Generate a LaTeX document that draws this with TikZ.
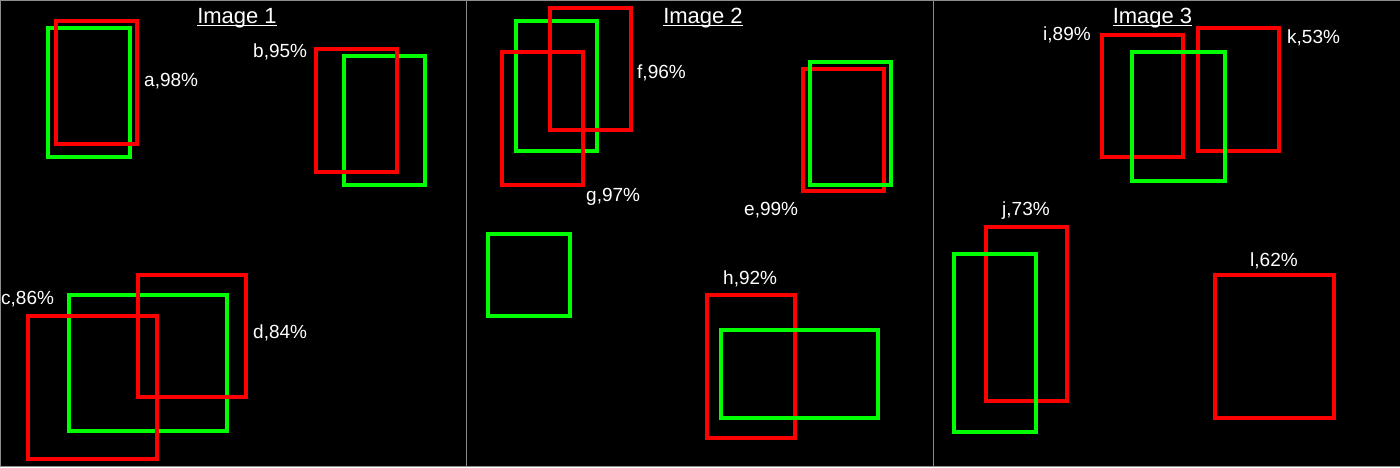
\documentclass[tikz,border=0pt]{standalone}
\usepackage{fontspec}
\setmainfont{Liberation Sans}
\definecolor{bgray}{RGB}{140,140,140}
\definecolor{gtgreen}{RGB}{0,255,0}
\definecolor{prred}{RGB}{255,0,0}
\tikzset{
  gtbox/.style={draw=gtgreen,line width=4pt},
  prbox/.style={draw=prred,line width=4pt},
  lbl/.style={text=white,inner sep=0pt,anchor=base west,font=\fontsize{19}{19}\selectfont},
  ttl/.style={text=white,inner sep=0pt,anchor=base,font=\fontsize{22}{22}\selectfont},
  sep/.style={draw=bgray,line width=1pt}
}
\begin{document}
\begin{tikzpicture}[x=1pt,y=-1pt]
\fill[black] (0,0) rectangle (1400,467);
\useasboundingbox (0,0) rectangle (1400,467);
% frame and separators
\draw[sep] (0.5,467) -- (0.5,0.5) -- (1400,0.5);
\draw[sep] (0,466) -- (1400,466);
\draw[sep] (466.5,0) -- (466.5,467);
\draw[sep] (933.5,0) -- (933.5,467);
% titles
\node[ttl] (t1) at (237,23.3) {Image 1};
\node[ttl] (t2) at (703,23.3) {Image 2};
\node[ttl] (t3) at (1152.5,23.3) {Image 3};
\foreach \t in {t1,t2,t3}{\draw[white,line width=0.9pt] ([yshift=-2pt]\t.base west) -- ([yshift=-2pt]\t.base east);}
% ---- Image 1
\draw[gtbox] (48,28) rectangle (130,157);
\draw[prbox] (56,21) rectangle (137,144);
\draw[gtbox] (344,56) rectangle (425,185);
\draw[prbox] (316,49) rectangle (397,172);
\draw[gtbox] (69,295) rectangle (227,431);
\draw[prbox] (28,316) rectangle (157,459);
\draw[prbox] (138,275) rectangle (246,397);
\node[lbl] (la) at (144,86) {a,98\%};
\node[lbl] (lb) at (253,57.5) {b,95\%};
\node[lbl] (lc) at (1,304) {c,86\%};
\node[lbl] (ld) at (253,338.3) {d,84\%};
% ---- Image 2
\draw[gtbox] (516,21) rectangle (597,151);
\draw[prbox] (550,8) rectangle (631,130);
\draw[prbox] (502,52) rectangle (583,185);
\draw[prbox] (803,69) rectangle (884,191);
\draw[gtbox] (810,62) rectangle (891,185);
\draw[gtbox] (488,234) rectangle (570,316);
\draw[prbox] (707,295) rectangle (795,438);
\draw[gtbox] (721,330) rectangle (878,418);
\node[lbl] (le) at (744,215) {e,99\%};
\node[lbl] (lf) at (637,78.3) {f,96\%};
\node[lbl] (lg) at (586,201.7) {g,97\%};
\node[lbl] (lh) at (723,284) {h,92\%};
% ---- Image 3
\draw[prbox] (1102,35) rectangle (1183,157);
\draw[prbox] (1198,28) rectangle (1279,151);
\draw[gtbox] (1132,52) rectangle (1225,181);
\draw[prbox] (986,227) rectangle (1067,401);
\draw[gtbox] (954,254) rectangle (1036,432);
\draw[prbox] (1215,275) rectangle (1334,418);
\node[lbl] (li) at (1043,40) {i,89\%};
\node[lbl] (lk) at (1287,43.3) {k,53\%};
\node[lbl] (lj) at (1002,215) {j,73\%};
\node[lbl] (ll) at (1250,266) {l,62\%};
\end{tikzpicture}
\end{document}
